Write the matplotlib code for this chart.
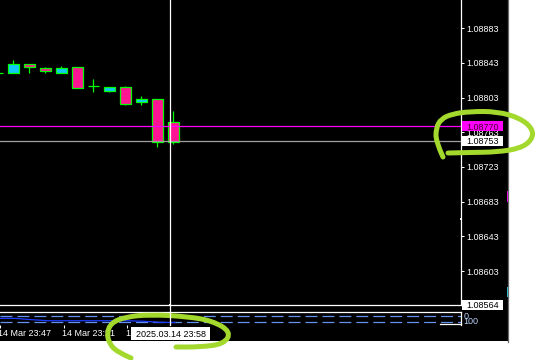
import matplotlib
matplotlib.use('Agg')
import matplotlib.pyplot as plt
from matplotlib.patches import Rectangle, PathPatch
from matplotlib.path import Path
from matplotlib.transforms import ScaledTranslation, blended_transform_factory
import numpy as np

plt.rcParams['font.family'] = ['Liberation Sans', 'DejaVu Sans']
plt.rcParams['font.size'] = 6.5
plt.rcParams['lines.scale_dashes'] = False

# ---------------- data ----------------
times = ['23:47', '23:48', '23:49', '23:50', '23:51', '23:52',
         '23:53', '23:54', '23:55', '23:56', '23:57', '23:58']
opens = [1.08832, 1.08831, 1.08842, 1.08837, 1.08832, 1.08838,
         1.08816, 1.08811, 1.08815, 1.08798, 1.08801, 1.08775]
highs = [1.08832, 1.08846, 1.08842, 1.08838, 1.08839, 1.08838,
         1.08825, 1.08815, 1.08816, 1.08805, 1.08801, 1.08788]
lows = [1.08831, 1.08831, 1.08832, 1.08832, 1.08832, 1.08814,
        1.08809, 1.08810, 1.08795, 1.08795, 1.08746, 1.08750]
closes = [1.08831, 1.08842, 1.08838, 1.08834, 1.08837, 1.08814,
          1.08816, 1.08815, 1.08796, 1.08801, 1.08752, 1.08752]
indicator = [58, 57, 45, 35, 35, 35, 35, 35, 35, 30, 20, 18]
indicator_levels = [80, 20]
indicator_labels = ['100', '0']

price_ticks = [1.08883, 1.08843, 1.08803, 1.08763, 1.08723, 1.08683, 1.08643, 1.08603]
time_tick_idx = [0, 4, 8]
time_tick_labels = ['14 Mar 23:47', '14 Mar 23:51', '14 Mar 23:55']

bid_price = 1.08770
cross_price = 1.08753
cross_idx = 10.8
cross_time_label = '2025.03.14 23:58'
bottom_price_label = 1.08564

# ---------------- layout ----------------
W, H = 538, 360
fig = plt.figure(figsize=(W / 100, H / 100), dpi=100, facecolor='white')


def rect(x0, y0, x1, y1):
    return [x0 / W, 1 - y1 / H, (x1 - x0) / W, (y1 - y0) / H]


# background layer
bg = fig.add_axes([0, 0, 1, 1], zorder=0)
bg.set_xlim(0, W)
bg.set_ylim(H, 0)
bg.axis('off')
bg.add_patch(Rectangle((0, 0), 507.5, 340.5, facecolor='black', edgecolor='none'))
bg.plot([508.3, 508.3], [0, 342], color='#6a6a6a', lw=0.9)
bg.add_patch(Rectangle((507.4, 191), 1.8, 10.7, facecolor='#FF00FF', edgecolor='none'))
bg.add_patch(Rectangle((507.4, 286.7), 1.8, 10.6, facecolor='#20D0E0', edgecolor='none'))

BULL = '#12C8F8'
BEAR = '#FF1493'
EDGE = '#00FF00'

# main price panel
ax = fig.add_axes(rect(0, 0, 461, 305), zorder=1)
ax.set_facecolor('none')
x = np.arange(len(times))
ax.set_xlim(0.169, 28.98)
ax.set_ylim(1.0856378, 1.0891565)

ax.vlines(x, lows, highs, color=EDGE, lw=0.9, zorder=2)
o = np.array(opens)
c = np.array(closes)
cols = [BULL if cc > oo else BEAR for oo, cc in zip(o, c)]
ax.bar(x, np.abs(c - o), bottom=np.minimum(o, c), width=0.67, color=cols,
       edgecolor=EDGE, linewidth=0.9, zorder=3)

ax.axhline(bid_price, color='#FF00FF', lw=0.9, zorder=4)
ax.axhline(cross_price, color='#A0A0A0', lw=0.9, zorder=4)

for s in ['top', 'left']:
    ax.spines[s].set_visible(False)
for s in ['right', 'bottom']:
    ax.spines[s].set_color('white')
    ax.spines[s].set_linewidth(0.9)
ax.yaxis.tick_right()
ax.set_yticks(price_ticks)
ax.set_yticklabels([f'{p:.5f}' for p in price_ticks])
ax.tick_params(axis='y', colors='white', length=2.2, width=0.75, pad=1.5, labelsize=6.5)
ax.tick_params(axis='x', bottom=False, labelbottom=False)

# indicator panel
ax2 = fig.add_axes(rect(0, 311.5, 461, 324.5), zorder=1)
ax2.set_facecolor('none')
ax2.set_xlim(0.169, 28.98)
ax2.set_ylim(-0.95, 122.9)
ax2.set_clip_on(False)
for lv in indicator_levels:
    ax2.axhline(lv, color='#6490EE', lw=0.9, dashes=(8.6, 3.6))
ax2.plot(x, indicator, color='#1E3CFF', lw=0.9)
for s in ['left', 'bottom']:
    ax2.spines[s].set_visible(False)
for s in ['top', 'right']:
    ax2.spines[s].set_color('white')
    ax2.spines[s].set_linewidth(0.9)
ax2.set_yticks([])
ax2.set_xticks(time_tick_idx)
ax2.set_xticklabels([])
ax2.tick_params(axis='x', colors='white', length=2.5, width=0.75, direction='out')

# time labels drawn at the tick positions (first one is partly off-screen)
tl_trans = blended_transform_factory(ax2.transData, ax2.transAxes) + \
    ScaledTranslation(-1.5 / 100, -4.5 / 100, fig.dpi_scale_trans)
for idx, lab in zip(time_tick_idx, time_tick_labels):
    ax2.text(idx, 0, lab, transform=tl_trans, color='white', fontsize=6.5,
             ha='left', va='top', clip_on=False)

# overlay layer (labels, crosshair, annotations)
ov = fig.add_axes([0, 0, 1, 1], zorder=5)
ov.set_xlim(0, W)
ov.set_ylim(H, 0)
ov.axis('off')
ov.patch.set_visible(False)


def py(price):
    return H - ax.transData.transform((0, price))[1]


def px(idx):
    return ax.transData.transform((idx, 0))[0]


# bottom white line of indicator box (right part)
ov.plot([440, 461], [324.2, 324.2], color='white', lw=0.9)

# crosshair vertical
xc = px(cross_idx)
ov.plot([xc, xc], [0, 324.5], color='white', lw=0.9)
ov.add_patch(Rectangle((xc - 1, 304), 2, 2, facecolor='white', edgecolor='none'))
ov.add_patch(Rectangle((459.5, 218), 2, 2, facecolor='white', edgecolor='none'))

# price label boxes
for price, fc, tc in [(bid_price, '#FF00FF', '#4A0030'),
                      (cross_price, 'white', 'black'),
                      (bottom_price_label, 'white', 'black')]:
    yc = py(price)
    ov.add_patch(Rectangle((461.5, yc - 5), 41.2, 10, facecolor=fc, edgecolor='none'))
    ov.text(466, yc, f'{price:.5f}', color=tc, fontsize=6.5, va='center_baseline', ha='left')

# indicator scale labels
ov.text(463.3, 320.0, indicator_labels[0], color='#B8D0F8', fontsize=6.5,
        va='center_baseline', ha='left')
ov.text(464.0, 315.8, indicator_labels[1], color='#B8D0F8', fontsize=6.5,
        va='center_baseline', ha='left')

# time label box
ov.add_patch(Rectangle((xc - 39.5, 326.5), 79, 13.5, facecolor='white', edgecolor='none'))
ov.text(xc + 0.5, 333.2, cross_time_label, color='black', fontsize=6.5,
        va='center_baseline', ha='center')


# hand-drawn highlight strokes
def smooth_path(pts):
    verts = [pts[0]]
    codes = [Path.MOVETO]
    for i in range(1, len(pts) - 1):
        mid = ((pts[i][0] + pts[i + 1][0]) / 2, (pts[i][1] + pts[i + 1][1]) / 2)
        verts += [pts[i], mid]
        codes += [Path.CURVE3, Path.CURVE3]
    verts.append(pts[-1])
    codes.append(Path.LINETO)
    return Path(verts, codes)


stroke_right = [(443, 157), (436, 142), (436, 128), (441, 119), (452, 114),
                (470, 111.5), (497, 111.5), (520, 118), (533, 129), (532, 140),
                (520, 148.5), (497, 152), (470, 152.5), (448, 153)]
stroke_bottom = [(131, 358), (117, 352), (109, 343), (107, 333), (111, 323),
                 (125, 317), (150, 314.5), (187, 316.5), (213, 321), (231, 332),
                 (224, 344), (200, 347), (176, 347)]
for pts in (stroke_right, stroke_bottom):
    ov.add_patch(PathPatch(smooth_path(pts), facecolor='none', edgecolor='#A3D82C',
                           lw=3.6, capstyle='round', joinstyle='round'))

fig.savefig('out.png', dpi=100, facecolor='white')
